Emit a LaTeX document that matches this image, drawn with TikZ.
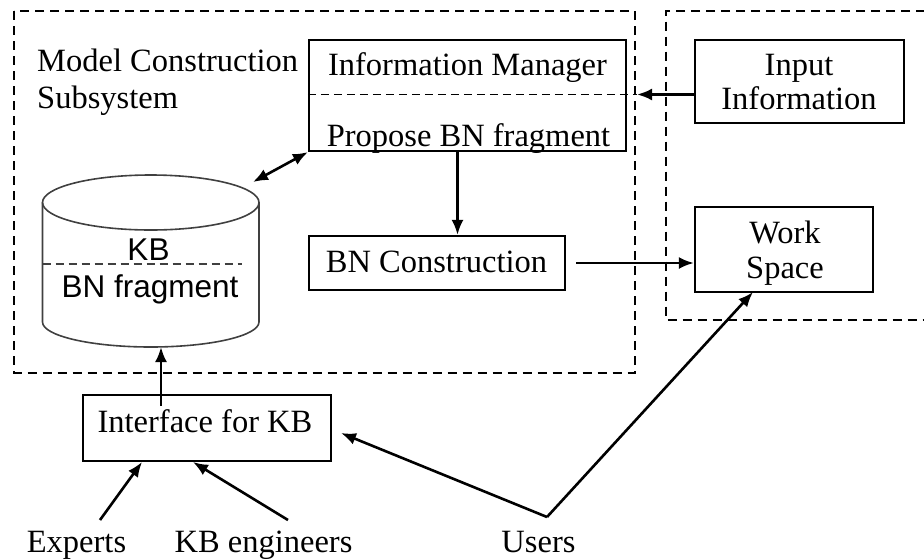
\documentclass[tikz,border=0pt]{standalone}
\usepackage{fontspec}
\setmainfont{Liberation Serif}
\newfontfamily\arialfont{Liberation Sans}
\usetikzlibrary{arrows.meta}
\begin{document}
\begin{tikzpicture}[x=1pt,y=-1pt,
  box/.style={draw, line width=2.2pt, inner sep=0pt},
  txt/.style={font=\fontsize{32.5}{38}\selectfont, inner sep=0pt, anchor=base},
  stxt/.style={font=\arialfont\fontsize{31.5}{37}\selectfont, inner sep=0pt, anchor=base},
  tip/.tip={Latex[length=15pt,width=12pt]},
  conn/.style={line width=2.6pt, -tip},
  region/.style={draw, line width=2pt, dash pattern=on 9pt off 6pt},
  split/.style={line width=1.8pt, dash pattern=on 8pt off 5pt},
  cyl/.style={line width=1.6pt, draw=black!75}]
\useasboundingbox (0,0) rectangle (924,558);

% regions
\draw[region] (14,11) rectangle (635,372.5);
\draw[region] (940,11) -- (665.5,11) -- (665.5,319.5) -- (940,319.5);

% boxes
\node[box, minimum width=317pt, minimum height=111pt] (im) at (467.5,95.5) {};
\node[box, minimum width=209pt, minimum height=83pt] (inp) at (799.5,81.5) {};
\node[box, minimum width=178pt, minimum height=85pt] (ws) at (784,249.5) {};
\node[box, minimum width=256pt, minimum height=54pt] (bnc) at (437,263) {};
\node[box, minimum width=248pt, minimum height=66pt] (ifkb) at (207,428) {};

% texts
\node[txt, anchor=base west] (mcs1) at (37,71) {Model Construction};
\node[txt, anchor=base west] (mcs2) at (37,108) {Subsystem};
\node[txt] (imt) at (467.5,75) {Information Manager};
\node[txt] (pbt) at (468.5,146) {Propose BN fragment};
\node[txt] (inp1) at (799,75) {Input};
\node[txt] (inp2) at (799,109) {Information};
\node[txt] (ws1) at (785,243) {Work};
\node[txt] (ws2) at (785,278) {Space};
\node[txt] (bnct) at (436.5,272) {BN Construction};
\node[txt] (ifkbt) at (205,432) {Interface for KB};
\node[txt] (experts) at (76.5,552) {Experts};
\node[txt] (kbeng) at (263.5,552) {KB engineers};
\node[txt] (users) at (538.5,552) {Users};

% knowledge base cylinder
\draw[cyl] (42.5,202.5) -- (42.5,322) arc[start angle=180, end angle=0, x radius=108.25, y radius=25] -- (259,202.5);
\draw[cyl] (150.75,202.5) ellipse [x radius=108.25, y radius=27.5];
\draw[split, line width=1.4pt, draw=black!75] (42.5,264) -- (242,264);
\node[stxt] (kbt) at (148.5,260) {KB};
\node[stxt] (bnft) at (150,297) {BN fragment};

% coordinates
\coordinate (imdash) at (637,94.5);
\coordinate (imdown) at (457.5,151);
\coordinate (kbtop) at (253,182);
\coordinate (kbbot) at (161,347);
\coordinate (kbin) at (161,406);
\coordinate (u) at (547,517);
\coordinate (ifkbtip) at (341,433);
\coordinate (wstip) at (753,292);
\coordinate (exfrom) at (100,520);
\coordinate (exto) at (142,462);
\coordinate (engfrom) at (288,520);
\coordinate (engto) at (193,462);

% connectors
\draw[split] (im.west |- imdash) -- (imdash);
\draw[conn] (inp.west |- imdash) -- (imdash);
\draw[conn] (imdown) -- (imdown |- bnc.north);
\draw[conn, shorten <=10pt] (bnc.east) -- (ws.west |- bnc.east);
\draw[conn, tip-tip] (kbtop) -- (im.south west);
\draw[conn] (kbin) -- (kbbot);
\draw[conn] (u) -- (ifkbtip);
\draw[conn] (u) -- (wstip);
\draw[conn] (exfrom) -- (exto);
\draw[conn] (engfrom) -- (engto);
\end{tikzpicture}
\end{document}
